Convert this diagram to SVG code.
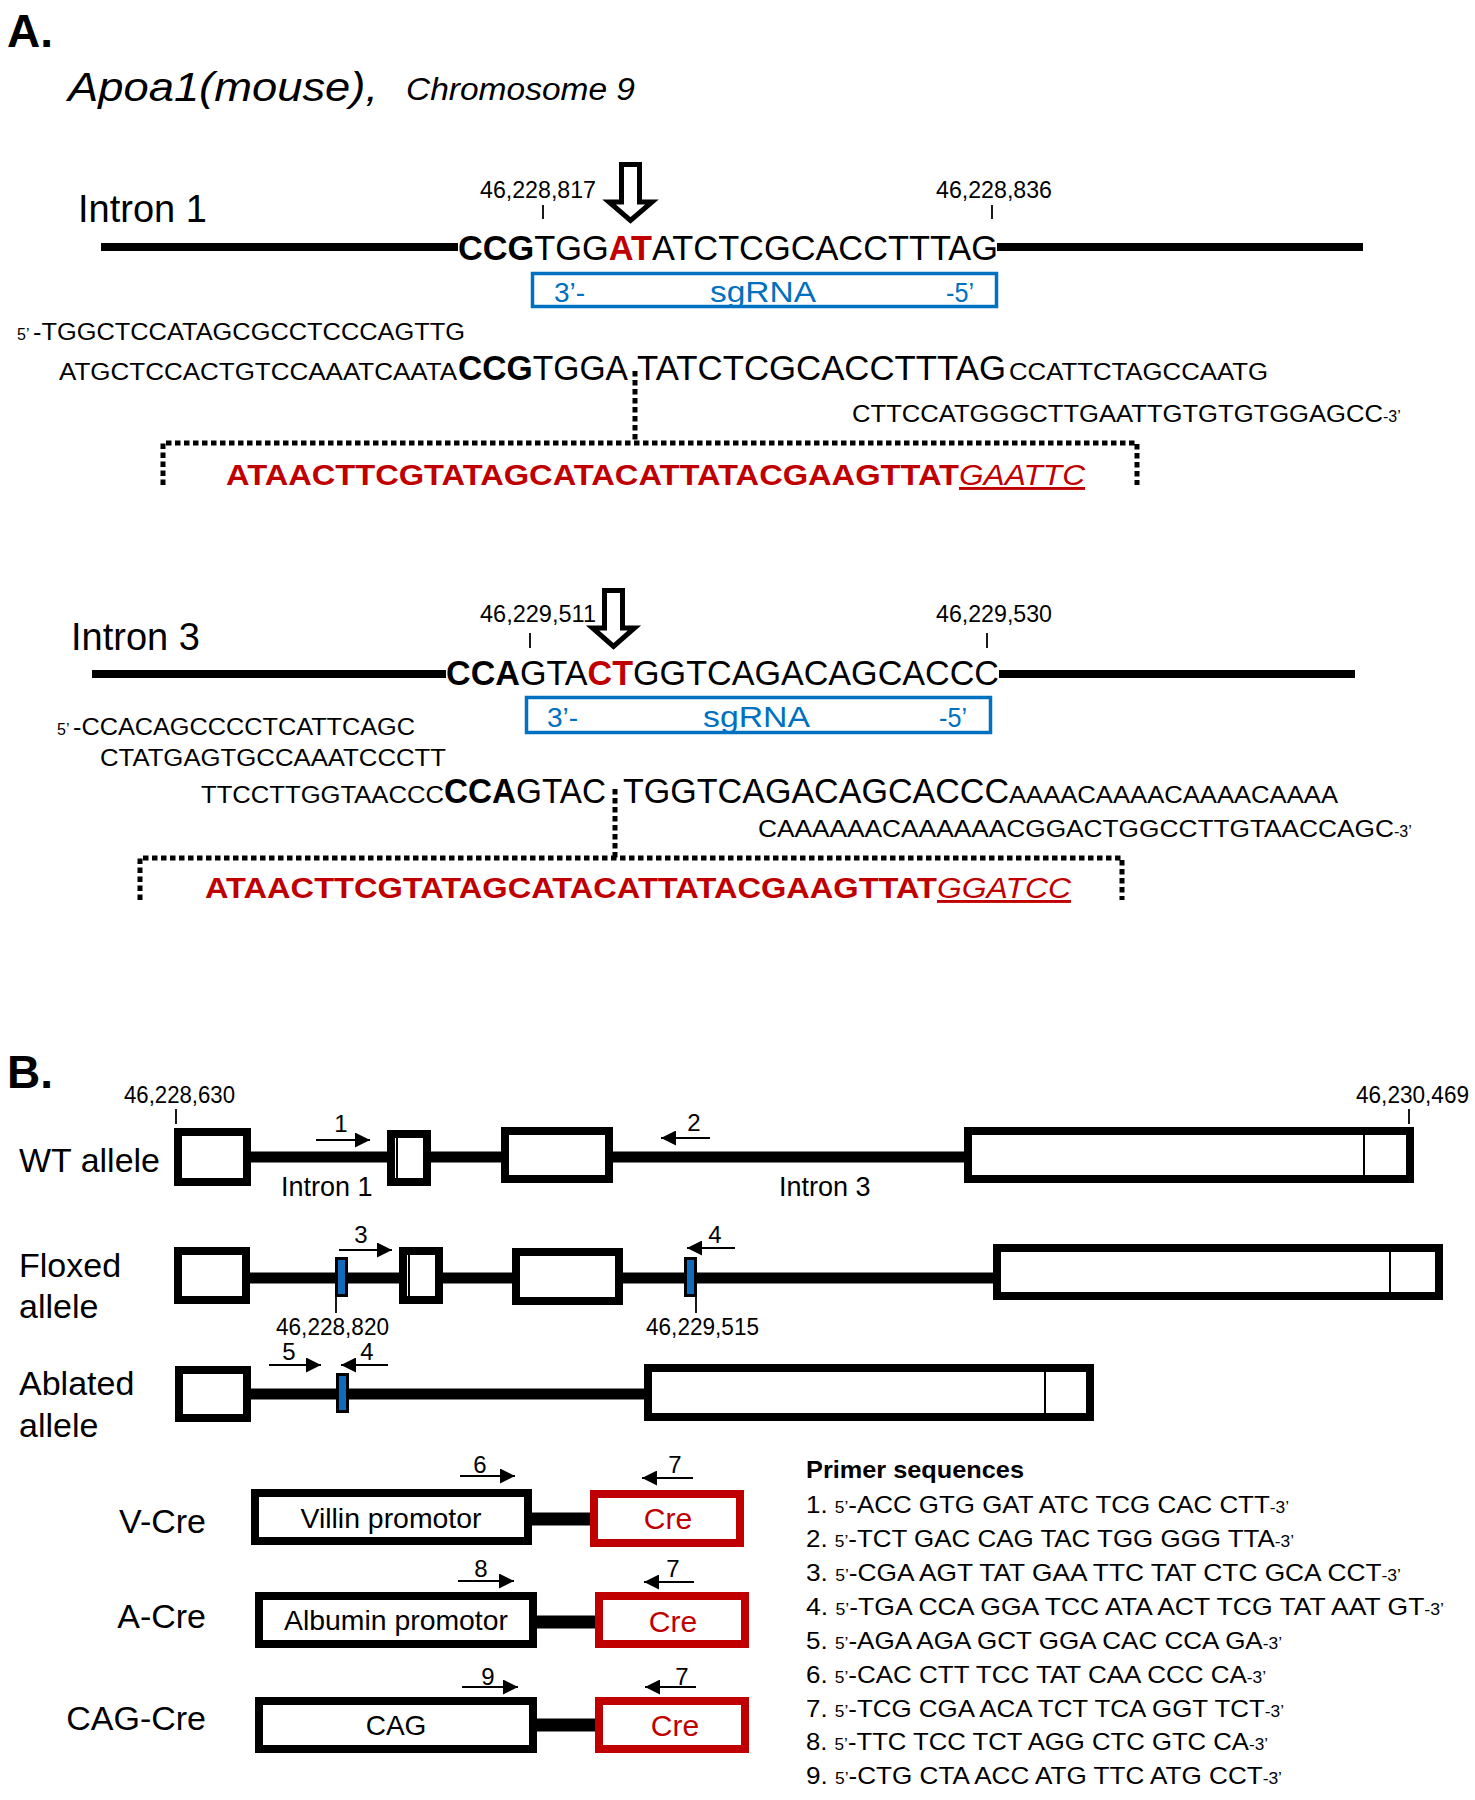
<svg xmlns="http://www.w3.org/2000/svg" width="1475" height="1800" viewBox="0 0 1475 1800">
<defs>
<style>
text { font-family: "Liberation Sans", Arial, sans-serif; fill:#000; }
.b { font-weight:bold; }
.it { font-style:italic; }
.red { fill:#C00000; }
.blue { fill:#0070C0; }
.thick { stroke:#000; stroke-width:8; }
.gene { stroke:#000; stroke-width:11; }
.conn { stroke:#000; stroke-width:13; }
.ex { fill:#fff; stroke:#000; stroke-width:8; }
.cre { fill:#fff; stroke:#C00000; stroke-width:8; }
.inner { stroke:#000; stroke-width:2; }
.dot { stroke:#000; stroke-width:5; stroke-dasharray:5.5 3.5; fill:none; }
.tick { stroke:#000; stroke-width:1.8; }
.pr { stroke:#000; stroke-width:2; marker-end:url(#ah); }
.lox { fill:#0F6CBD; stroke:#000; stroke-width:3; }
.sg { fill:none; stroke:#0070C0; stroke-width:3.5; }
.hollow { fill:#fff; stroke:#000; stroke-width:5; stroke-linejoin:miter; }
.pos { font-size:23px; }
.num { font-size:24px; text-anchor:middle; }
.lbl { font-size:34px; }
.small { font-size:23px; }
.big { font-size:35px; }
.prim { font-size:24px; }
.sm { font-size:16px; }
</style>
<marker id="ah" viewBox="0 0 15 15" refX="15" refY="7.5" markerWidth="15" markerHeight="15" markerUnits="userSpaceOnUse" orient="auto"><path d="M0,0 L15,7.5 L0,15 z" fill="#000"/></marker>
</defs>

<!-- Panel A -->
<g id="panelA-title">
<text x="7" y="47" class="b" font-size="46">A.</text>
<text x="68" y="101" class="it" font-size="41" textLength="310" lengthAdjust="spacingAndGlyphs">Apoa1(mouse),</text>
<text x="406" y="100" class="it" font-size="31" textLength="229" lengthAdjust="spacingAndGlyphs">Chromosome 9</text>
</g>

<g id="intron1">
<text x="78" y="222" font-size="38">Intron 1</text>
<line x1="101" y1="247" x2="458" y2="247" class="thick"/>
<line x1="997" y1="247" x2="1363" y2="247" class="thick"/>
<text x="480" y="198" class="pos" textLength="116" lengthAdjust="spacingAndGlyphs">46,228,817</text>
<line x1="543" y1="205" x2="543" y2="219" class="tick"/>
<text x="936" y="198" class="pos" textLength="116" lengthAdjust="spacingAndGlyphs">46,228,836</text>
<line x1="992" y1="205" x2="992" y2="219" class="tick"/>
<polygon class="hollow" points="621.5,164.5 639.5,164.5 639.5,202 652,202 630.5,220.5 609,202 621.5,202"/>
<text x="458" y="260" class="big" textLength="540" lengthAdjust="spacingAndGlyphs"><tspan class="b">CCG</tspan>TGG<tspan class="b red">AT</tspan>ATCTCGCACCTTTAG</text>
<rect x="532.5" y="273.5" width="464" height="33" class="sg"/>
<text x="554" y="302" class="blue" font-size="28">3’-</text>
<text x="710" y="302" class="blue" font-size="30" textLength="106" lengthAdjust="spacingAndGlyphs">sgRNA</text>
<text x="946" y="302" class="blue" font-size="28" textLength="28" lengthAdjust="spacingAndGlyphs">-5’</text>
<text x="17" y="340" class="sm">5’</text>
<text x="33" y="340" class="small" textLength="432" lengthAdjust="spacingAndGlyphs">-TGGCTCCATAGCGCCTCCCAGTTG</text>
<text x="59" y="380" class="small" textLength="398" lengthAdjust="spacingAndGlyphs">ATGCTCCACTGTCCAAATCAATA</text>
<text x="458" y="380" class="big" textLength="170" lengthAdjust="spacingAndGlyphs"><tspan class="b">CCG</tspan>TGGA</text>
<text x="637" y="380" class="big" textLength="369" lengthAdjust="spacingAndGlyphs">TATCTCGCACCTTTAG</text>
<text x="1009" y="380" class="small" textLength="259" lengthAdjust="spacingAndGlyphs">CCATTCTAGCCAATG</text>
<text x="852" y="422" class="small" textLength="531" lengthAdjust="spacingAndGlyphs">CTTCCATGGGCTTGAATTGTGTGTGGAGCC</text>
<text x="1383" y="422" class="sm">-3’</text>
<text x="226" y="485" class="b red" font-size="29" textLength="733" lengthAdjust="spacingAndGlyphs">ATAACTTCGTATAGCATACATTATACGAAGTTAT</text>
<text x="959" y="485" class="it red" font-size="29" text-decoration="underline" textLength="126" lengthAdjust="spacingAndGlyphs">GAATTC</text>
</g>

<g id="intron3">
<text x="71" y="650" font-size="38">Intron 3</text>
<line x1="92" y1="674" x2="446" y2="674" class="thick"/>
<line x1="999" y1="674" x2="1355" y2="674" class="thick"/>
<text x="480" y="622" class="pos" textLength="116" lengthAdjust="spacingAndGlyphs">46,229,511</text>
<line x1="530" y1="633" x2="530" y2="648" class="tick"/>
<text x="936" y="622" class="pos" textLength="116" lengthAdjust="spacingAndGlyphs">46,229,530</text>
<line x1="987" y1="633" x2="987" y2="648" class="tick"/>
<polygon class="hollow" points="604.5,590.5 622.5,590.5 622.5,628 634.5,628 613.5,646.5 592.5,628 604.5,628"/>
<text x="446" y="685" class="big" textLength="553" lengthAdjust="spacingAndGlyphs"><tspan class="b">CCA</tspan>GTA<tspan class="b red">CT</tspan>GGTCAGACAGCACCC</text>
<rect x="526.5" y="697.5" width="464" height="35" class="sg"/>
<text x="547" y="727" class="blue" font-size="28">3’-</text>
<text x="703" y="727" class="blue" font-size="30" textLength="107" lengthAdjust="spacingAndGlyphs">sgRNA</text>
<text x="939" y="727" class="blue" font-size="28" textLength="28" lengthAdjust="spacingAndGlyphs">-5’</text>
<text x="57" y="735" class="sm">5’</text>
<text x="73" y="735" class="small" textLength="342" lengthAdjust="spacingAndGlyphs">-CCACAGCCCCTCATTCAGC</text>
<text x="100" y="766" class="small" textLength="346" lengthAdjust="spacingAndGlyphs">CTATGAGTGCCAAATCCCTT</text>
<text x="201" y="803" class="small" textLength="243" lengthAdjust="spacingAndGlyphs">TTCCTTGGTAACCC</text>
<text x="444" y="803" class="big" textLength="162" lengthAdjust="spacingAndGlyphs"><tspan class="b">CCA</tspan>GTAC</text>
<text x="623" y="803" class="big" textLength="386" lengthAdjust="spacingAndGlyphs">TGGTCAGACAGCACCC</text>
<text x="1009" y="803" class="small" textLength="329" lengthAdjust="spacingAndGlyphs">AAAACAAAACAAAACAAAA</text>
<text x="758" y="837" class="small" textLength="636" lengthAdjust="spacingAndGlyphs">CAAAAAACAAAAAACGGACTGGCCTTGTAACCAGC</text>
<text x="1394" y="837" class="sm">-3’</text>
<text x="205" y="898" class="b red" font-size="29" textLength="732" lengthAdjust="spacingAndGlyphs">ATAACTTCGTATAGCATACATTATACGAAGTTAT</text>
<text x="937" y="898" class="it red" font-size="29" text-decoration="underline" textLength="134" lengthAdjust="spacingAndGlyphs">GGATCC</text>
</g>

<g id="connectors">
<polyline class="dot" points="163,485 163,443 1137,443 1137,485"/>
<line class="dot" x1="635" y1="371" x2="635" y2="443"/>
<polyline class="dot" points="140,900 140,858 1122,858 1122,900"/>
<line class="dot" x1="615" y1="789" x2="615" y2="858"/>
</g>

<!-- Panel B -->
<g id="panelB-title">
<text x="7" y="1088" class="b" font-size="46">B.</text>
</g>

<g id="wt-allele">
<text x="19" y="1172" class="lbl" textLength="141" lengthAdjust="spacingAndGlyphs">WT allele</text>
<text x="124" y="1103" class="pos" font-size="22" textLength="111" lengthAdjust="spacingAndGlyphs">46,228,630</text>
<line x1="176" y1="1109" x2="176" y2="1124" class="tick"/>
<text x="1356" y="1103" class="pos" font-size="22" textLength="113" lengthAdjust="spacingAndGlyphs">46,230,469</text>
<line x1="1409" y1="1109" x2="1409" y2="1124" class="tick"/>
<line x1="250" y1="1157" x2="966" y2="1157" class="gene"/>
<rect x="178" y="1132" width="69" height="50" class="ex"/>
<rect x="391" y="1134" width="36" height="48" class="ex"/>
<line x1="397" y1="1134" x2="397" y2="1182" class="inner"/>
<rect x="505" y="1131" width="104" height="48" class="ex"/>
<rect x="968" y="1131" width="442" height="48" class="ex"/>
<line x1="1364" y1="1131" x2="1364" y2="1179" class="inner"/>
<line x1="316" y1="1140" x2="370" y2="1140" class="pr"/>
<text x="341" y="1132" class="num">1</text>
<line x1="710" y1="1138" x2="661" y2="1138" class="pr"/>
<text x="694" y="1131" class="num">2</text>
<text x="281" y="1196" font-size="27">Intron 1</text>
<text x="779" y="1196" font-size="27">Intron 3</text>
</g>

<g id="floxed-allele">
<text x="19" y="1277" class="lbl">Floxed</text>
<text x="19" y="1318" class="lbl">allele</text>
<line x1="249" y1="1278" x2="995" y2="1278" class="gene"/>
<rect x="178" y="1251" width="68" height="49" class="ex"/>
<rect x="403" y="1251" width="36" height="49" class="ex"/>
<line x1="409" y1="1251" x2="409" y2="1300" class="inner"/>
<rect x="516" y="1252" width="103" height="49" class="ex"/>
<rect x="997" y="1248" width="442" height="48" class="ex"/>
<line x1="1390" y1="1248" x2="1390" y2="1296" class="inner"/>
<rect x="336.5" y="1258.5" width="10" height="37" class="lox"/>
<rect x="685.5" y="1258.5" width="10" height="37" class="lox"/>
<line x1="336" y1="1297" x2="336" y2="1313" class="tick"/>
<line x1="696" y1="1297" x2="696" y2="1313" class="tick"/>
<text x="276" y="1335" class="pos" font-size="22" textLength="113" lengthAdjust="spacingAndGlyphs">46,228,820</text>
<text x="646" y="1335" class="pos" font-size="22" textLength="113" lengthAdjust="spacingAndGlyphs">46,229,515</text>
<line x1="339" y1="1250" x2="392" y2="1250" class="pr"/>
<text x="361" y="1243" class="num">3</text>
<line x1="735" y1="1248" x2="687" y2="1248" class="pr"/>
<text x="715" y="1243" class="num">4</text>
</g>

<g id="ablated-allele">
<text x="19" y="1395" class="lbl">Ablated</text>
<text x="19" y="1437" class="lbl">allele</text>
<line x1="249" y1="1394" x2="648" y2="1394" class="gene"/>
<rect x="179" y="1370" width="68" height="48" class="ex"/>
<rect x="648" y="1368" width="442" height="49" class="ex"/>
<line x1="1045" y1="1368" x2="1045" y2="1417" class="inner"/>
<rect x="337.5" y="1374.5" width="10" height="37" class="lox"/>
<line x1="269" y1="1365" x2="321" y2="1365" class="pr"/>
<text x="289" y="1360" class="num">5</text>
<line x1="388" y1="1365" x2="341" y2="1365" class="pr"/>
<text x="367" y="1360" class="num">4</text>
</g>

<g id="v-cre">
<text x="206" y="1533" class="lbl" text-anchor="end">V-Cre</text>
<line x1="530" y1="1519" x2="594" y2="1519" class="conn"/>
<rect x="255" y="1493" width="273" height="48" class="ex"/>
<text x="391" y="1528" font-size="28" text-anchor="middle" textLength="181" lengthAdjust="spacingAndGlyphs">Villin promotor</text>
<rect x="594" y="1494" width="146" height="49" class="cre"/>
<text x="668" y="1529" class="red" font-size="30" text-anchor="middle">Cre</text>
<line x1="460" y1="1476" x2="515" y2="1476" class="pr"/>
<text x="480" y="1473" class="num">6</text>
<line x1="693" y1="1478" x2="642" y2="1478" class="pr"/>
<text x="675" y="1473" class="num">7</text>
</g>

<g id="a-cre">
<text x="206" y="1628" class="lbl" text-anchor="end">A-Cre</text>
<line x1="535" y1="1622" x2="599" y2="1622" class="conn"/>
<rect x="259" y="1596" width="274" height="48" class="ex"/>
<text x="396" y="1630" font-size="28" text-anchor="middle" textLength="224" lengthAdjust="spacingAndGlyphs">Albumin promotor</text>
<rect x="599" y="1596" width="146" height="48" class="cre"/>
<text x="673" y="1632" class="red" font-size="30" text-anchor="middle">Cre</text>
<line x1="458" y1="1581" x2="514" y2="1581" class="pr"/>
<text x="481" y="1577" class="num">8</text>
<line x1="694" y1="1582" x2="644" y2="1582" class="pr"/>
<text x="673" y="1577" class="num">7</text>
</g>

<g id="cag-cre">
<text x="206" y="1730" class="lbl" text-anchor="end">CAG-Cre</text>
<line x1="535" y1="1725" x2="599" y2="1725" class="conn"/>
<rect x="259" y="1701" width="274" height="48" class="ex"/>
<text x="396" y="1735" font-size="28" text-anchor="middle">CAG</text>
<rect x="599" y="1701" width="146" height="48" class="cre"/>
<text x="675" y="1736" class="red" font-size="30" text-anchor="middle">Cre</text>
<line x1="462" y1="1687" x2="518" y2="1687" class="pr"/>
<text x="488" y="1685" class="num">9</text>
<line x1="696" y1="1687" x2="645" y2="1687" class="pr"/>
<text x="682" y="1685" class="num">7</text>
</g>

<g id="primer-sequences">
<text x="806" y="1478" class="b" font-size="24" textLength="218" lengthAdjust="spacingAndGlyphs">Primer sequences</text>
<text x="806" y="1513" class="prim" textLength="483" lengthAdjust="spacingAndGlyphs">1. <tspan class="sm">5’</tspan>-ACC GTG GAT ATC TCG CAC CTT<tspan class="sm">-3’</tspan></text>
<text x="806" y="1547" class="prim" textLength="488" lengthAdjust="spacingAndGlyphs">2. <tspan class="sm">5’</tspan>-TCT GAC CAG TAC TGG GGG TTA<tspan class="sm">-3’</tspan></text>
<text x="806" y="1581" class="prim" textLength="595" lengthAdjust="spacingAndGlyphs">3. <tspan class="sm">5’</tspan>-CGA AGT TAT GAA TTC TAT CTC GCA CCT<tspan class="sm">-3’</tspan></text>
<text x="806" y="1615" class="prim" textLength="638" lengthAdjust="spacingAndGlyphs">4. <tspan class="sm">5’</tspan>-TGA CCA GGA TCC ATA ACT TCG TAT AAT GT<tspan class="sm">-3’</tspan></text>
<text x="806" y="1649" class="prim" textLength="476" lengthAdjust="spacingAndGlyphs">5. <tspan class="sm">5’</tspan>-AGA AGA GCT GGA CAC CCA GA<tspan class="sm">-3’</tspan></text>
<text x="806" y="1683" class="prim" textLength="460" lengthAdjust="spacingAndGlyphs">6. <tspan class="sm">5’</tspan>-CAC CTT TCC TAT CAA CCC CA<tspan class="sm">-3’</tspan></text>
<text x="806" y="1717" class="prim" textLength="478" lengthAdjust="spacingAndGlyphs">7. <tspan class="sm">5’</tspan>-TCG CGA ACA TCT TCA GGT TCT<tspan class="sm">-3’</tspan></text>
<text x="806" y="1750" class="prim" textLength="462" lengthAdjust="spacingAndGlyphs">8. <tspan class="sm">5’</tspan>-TTC TCC TCT AGG CTC GTC CA<tspan class="sm">-3’</tspan></text>
<text x="806" y="1784" class="prim" textLength="476" lengthAdjust="spacingAndGlyphs">9. <tspan class="sm">5’</tspan>-CTG CTA ACC ATG TTC ATG CCT<tspan class="sm">-3’</tspan></text>
</g>
</svg>
